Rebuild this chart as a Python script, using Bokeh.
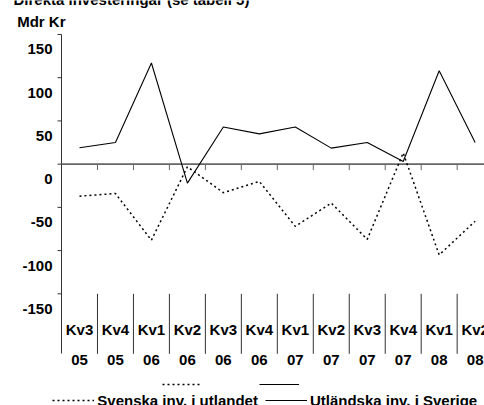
import numpy as np
from bokeh.plotting import figure
from bokeh.models import Range1d, Label, Legend, LegendItem
from bokeh.core.properties import value
from bokeh.embed import file_html
from bokeh.resources import INLINE

# ---- data ----
quarters = ["Kv3", "Kv4", "Kv1", "Kv2", "Kv3", "Kv4", "Kv1", "Kv2", "Kv3", "Kv4", "Kv1", "Kv2"]
years = ["05", "05", "06", "06", "06", "06", "07", "07", "07", "07", "08", "08"]
svenska = [-37, -34, -88, -3, -33, -20, -72, -45, -87, 13, -105, -66]      # Svenska inv. i utlandet
utlandska = [19, 25, 117, -22, 43, 35, 43, 18.5, 25, 3, 108, 25]          # Utländska inv. i Sverige
y_ticks = [150, 100, 50, 0, -50, -100, -150]
y_tick_labels = [str(t) for t in y_ticks]
title_text = "Direkta investeringar (se tabell 5)"
unit_text = "Mdr Kr"

FONT = "Liberation Sans"
FS = "15px"
AX = "#333333"
n = len(quarters)
xc = [i + 0.5 for i in range(n)]
bounds = list(range(1, n))
y_axis_bottom = -219

# the frame covers the whole canvas; the value axis is drawn at x = 0
p = figure(width=484, height=405, output_backend="svg", toolbar_location=None,
           x_range=Range1d(-1.696, 11.76), y_range=Range1d(-279.2, 189.3),
           x_axis_location=None, y_axis_location=None,
           min_border_left=0, min_border_right=0, min_border_top=0, min_border_bottom=0)
p.grid.visible = False
p.outline_line_color = None
p.background_fill_color = "white"
p.border_fill_color = "white"

# value axis: line, outward ticks, labels sitting a little below their ticks
p.segment(x0=[0], y0=[y_axis_bottom], x1=[0], y1=[max(y_ticks)], line_color=AX, line_width=1)
p.ray(x=[0] * len(y_ticks), y=y_ticks, length=4, angle=np.pi, length_units="screen",
      line_color=AX, line_width=1)
p.text(x=[0] * len(y_ticks), y=y_ticks, text=y_tick_labels, x_offset=-9, y_offset=15,
       text_align="right", text_baseline="middle", text_font=value(FONT),
       text_font_size=FS, text_font_style="bold", text_color="black")

# zero line (from the value axis to the right edge) with ticks hanging below
p.segment(x0=[0], y0=[0], x1=[n], y1=[0], line_color="#666666", line_width=1.6)
p.ray(x=bounds, y=[0] * len(bounds), length=6, angle=-np.pi / 2, length_units="screen",
      line_color="#666666", line_width=1)

# category dividers below the plot
p.ray(x=bounds, y=[min(y_ticks)] * len(bounds), length=60, angle=-np.pi / 2,
      length_units="screen", line_color=AX, line_width=1)

# series
r_sv = p.line(xc, svenska, line_color="black", line_width=1.5, line_dash="2 3")
r_ut = p.line(xc, utlandska, line_color="black", line_width=1.1)

# category labels
p.text(x=xc, y=[-191] * n, text=quarters, text_align="center", text_baseline="middle",
       text_font=value(FONT), text_font_size=FS, text_font_style="bold", text_color="black")
p.text(x=xc, y=[-227] * n, text=years, text_align="center", text_baseline="middle",
       text_font=value(FONT), text_font_size=FS, text_font_style="bold", text_color="black")

# title (cut at the top edge, as in the original) & unit
p.add_layout(Label(x=13, y=406, x_units="screen", y_units="screen", text=title_text,
                   text_font=FONT, text_font_size=FS, text_font_style="bold",
                   text_baseline="alphabetic", text_color="black"))
p.add_layout(Label(x=16.7, y=384, x_units="screen", y_units="screen", text=unit_text,
                   text_font=FONT, text_font_size=FS, text_font_style="bold",
                   text_baseline="alphabetic", text_color="black"))

# legend
leg = Legend(items=[LegendItem(label="Svenska inv. i utlandet", renderers=[r_sv]),
                    LegendItem(label="Utländska inv. i Sverige", renderers=[r_ut])],
             orientation="horizontal", location=(52.3, -5.3),
             glyph_width=42, glyph_height=20, label_height=20, label_standoff=3, spacing=7,
             padding=0, margin=0, border_line_color=None, background_fill_alpha=0,
             label_text_font=FONT, label_text_font_size=FS, label_text_font_style="bold",
             label_text_color="black")
p.add_layout(leg)

# stray legend samples above the legend (as in the original)
leg2 = Legend(items=[LegendItem(label=" ", renderers=[r_sv]),
                     LegendItem(label=" ", renderers=[r_ut])],
              orientation="horizontal", location=(161.7, 11),
              glyph_width=40, glyph_height=20, label_height=20, label_width=20,
              label_standoff=0, spacing=37,
              padding=0, margin=0, border_line_color=None, background_fill_alpha=0,
              label_text_font=FONT, label_text_font_size=FS)
p.add_layout(leg2)

open("out.html", "w").write(file_html(p, INLINE))
